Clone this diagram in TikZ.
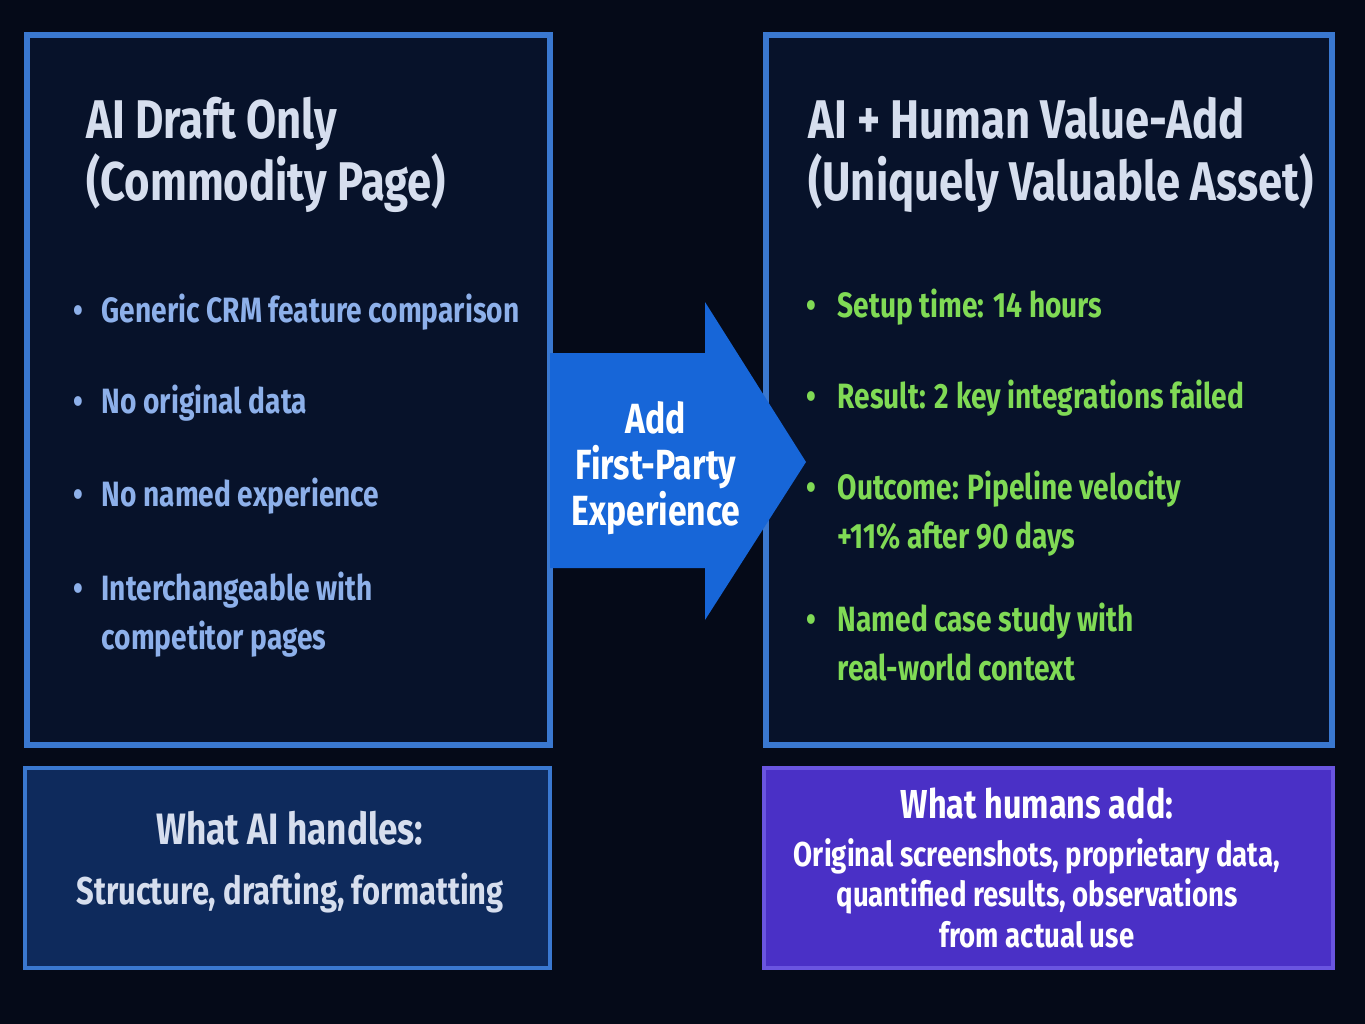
\documentclass[tikz,border=0pt]{standalone}
\usepackage{fontspec}
\setmainfont{Fira Sans}[FakeStretch=0.8]
\usetikzlibrary{positioning}
\definecolor{bgdark}{HTML}{050A18}
\definecolor{boxline}{HTML}{3A78D0}
\definecolor{boxfill}{HTML}{07122A}
\definecolor{titlegray}{HTML}{D6DEEE}
\definecolor{aiblue}{HTML}{8DB0EA}
\definecolor{humgreen}{HTML}{80DA55}
\definecolor{arrowblue}{HTML}{1766D8}
\definecolor{handlefill}{HTML}{0E2A5C}
\definecolor{addfill}{HTML}{4A30C6}
\definecolor{addline}{HTML}{6A55E0}
\tikzset{
  panel/.style={draw=boxline,line width=1.6pt,fill=boxfill},
  title/.style={anchor=west,align=left,text=titlegray,font=\fontsize{15.5}{17.6}\selectfont\bfseries},
  item/.style={anchor=north west,inner sep=0pt,align=left,font=\fontsize{10}{14}\selectfont\bfseries},
  dot/.style={anchor=north,inner sep=0pt,font=\fontsize{10}{14}\selectfont\bfseries}
}
\begin{document}
\begin{tikzpicture}[x=0.01cm,y=-0.01cm]
  \fill[bgdark] (0,0) rectangle (1365,1024);
  \useasboundingbox (0,0) rectangle (1365,1024);
  % the two panels
  \draw[panel] (27,35) rectangle (550,745);
  \draw[panel] (766,35) rectangle (1332,745);
  \node[title] (drafttitle) at (74,155) {AI Draft Only\\(Commodity Page)};
  \node[title] (valuetitle) at (796,155) {AI + Human Value-Add\\(Uniquely Valuable Asset)};
  % left bullets
  \foreach \y/\t in {287/{Generic CRM feature comparison},378/{No original data},471/{No named experience},565/{Interchangeable with\\competitor pages}}
    {
      \node[dot,text=aiblue] at (78,\y) {\strut\textbullet};
      \node[item,text=aiblue] at (101,\y) {\strut\t};
    }
  % right bullets
  \foreach \y/\t in {282/{Setup time: 14 hours},373/{Result: 2 key integrations failed},464/{Outcome: Pipeline velocity\\+11\% after 90 days},596/{Named case study with\\real-world context}}
    {
      \node[dot,text=humgreen] at (811,\y) {\strut\textbullet};
      \node[item,text=humgreen] at (837,\y) {\strut\t};
    }
  % arrow between panels
  \fill[arrowblue] (550,353) -- (705,353) -- (705,302) -- (806,462)
    -- (705,620) -- (705,568) -- (550,568) -- cycle;
  \node[align=center,text=white,font=\fontsize{12}{13}\selectfont\bfseries] (addnote) at (656,468) {Add\\First-Party\\Experience};
  % bottom boxes
  \draw[draw=boxline,line width=1.4pt,fill=handlefill] (25,768) rectangle (550,968);
  \node[align=center,text=titlegray,font=\fontsize{12.5}{16}\selectfont\bfseries] (handles) at (290,862)
    {What AI handles:\\[1pt]\fontsize{11}{14}\selectfont Structure, drafting, formatting};
  \draw[draw=addline,line width=1.4pt,fill=addfill] (764,768) rectangle (1333,968);
  \node[align=center,text=white,font=\fontsize{9.8}{11.5}\selectfont\bfseries] (humans) at (1037,868)
    {\fontsize{11.5}{14}\selectfont What humans add:\\[2pt]Original screenshots, proprietary data,\\quantified results, observations\\from actual use};
\end{tikzpicture}
\end{document}
